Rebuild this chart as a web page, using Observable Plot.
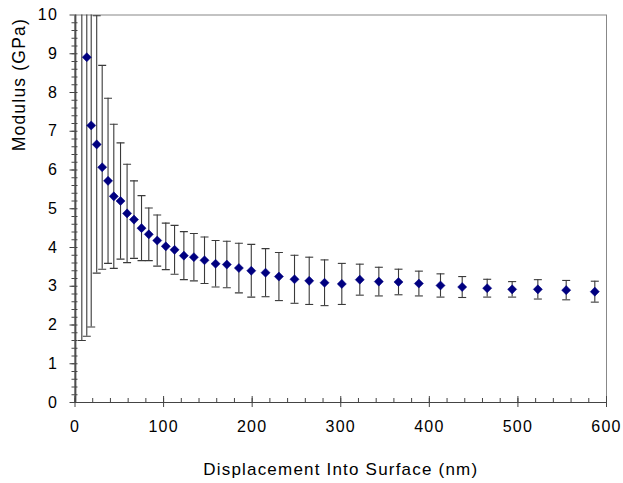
<!DOCTYPE html>
<html><head><meta charset="utf-8">
<script src="https://cdn.jsdelivr.net/npm/d3@7"></script>
<script src="https://cdn.jsdelivr.net/npm/@observablehq/plot@0.6"></script>
<style>
html,body{margin:0;padding:0;background:#fff;}
</style>
</head><body><div id="chart"></div>
<script>
// Displacement into surface (nm)
const depth = [0.9, 7.7, 13.3, 18.3, 24.5, 30.7, 37.3, 43.8, 51.4, 58.8, 66.6, 75.1, 83.3, 92.8, 102.5, 112.4, 122.9, 134.2, 146.2, 158.7, 171.4, 185.0, 199.0, 215.1, 230.2, 247.8, 264.4, 281.7, 301.2, 321.5, 343.0, 365.2, 388.2, 412.6, 437.1, 465.3, 493.5, 522.5, 554.5, 586.8];
// Modulus (GPa)
const modulus = [12.5, 11.0, 8.91, 7.15, 6.66, 6.07, 5.72, 5.32, 5.20, 4.88, 4.72, 4.50, 4.34, 4.18, 4.03, 3.94, 3.79, 3.75, 3.67, 3.58, 3.56, 3.47, 3.40, 3.35, 3.25, 3.18, 3.14, 3.09, 3.06, 3.17, 3.12, 3.11, 3.07, 3.02, 2.98, 2.95, 2.92, 2.92, 2.90, 2.86];
// Error (± GPa)
const stdev = [13.5, 9.4, 7.2, 5.2, 3.32, 2.63, 2.13, 1.86, 1.5, 1.27, 1.0, 0.84, 0.68, 0.66, 0.6, 0.63, 0.62, 0.61, 0.6, 0.6, 0.6, 0.64, 0.68, 0.62, 0.62, 0.62, 0.61, 0.59, 0.53, 0.4, 0.37, 0.33, 0.32, 0.3, 0.27, 0.23, 0.2, 0.25, 0.25, 0.27];

const xTicks = [0, 100, 200, 300, 400, 500, 600];
const yTicks = [0, 1, 2, 3, 4, 5, 6, 7, 8, 9, 10];
const xMinor = d3.range(0, 601, 20);
const yMinor = d3.range(0, 50).map(i => i * 0.2);
const xTitle = "Displacement Into Surface (nm)";
const yTitle = "Modulus (GPa)";

const data = depth.map((x, i) => ({x, y: modulus[i], lo: modulus[i] - stdev[i], hi: modulus[i] + stdev[i]}));

const cap = {draw(ctx) { ctx.moveTo(-4, 0); ctx.lineTo(4, 0); }};
const blank = () => "";
const axisColor = "#444";
const barColor = "#3a3a3a";

const chart = Plot.plot({
  width: 623,
  height: 483,
  marginLeft: 74.5,
  marginRight: 17,
  marginTop: 14.5,
  marginBottom: 81,
  style: {fontFamily: "Liberation Sans, Arial, sans-serif", fontSize: "16px", color: "#000", background: "#fff", letterSpacing: "1.2px"},
  x: {domain: [0, 600], label: null},
  y: {domain: [0, 10], label: null},
  marks: [
    Plot.frame({stroke: "#888"}),
    Plot.ruleX(data, {x: "x", y1: "lo", y2: "hi", stroke: barColor, strokeWidth: 1.1, clip: true}),
    Plot.dot(data, {x: "x", y: "lo", symbol: cap, stroke: barColor, strokeWidth: 1.1, clip: true}),
    Plot.dot(data, {x: "x", y: "hi", symbol: cap, stroke: barColor, strokeWidth: 1.1, clip: true}),
    Plot.dot(data, {x: "x", y: "y", symbol: "diamond2", r: 4.1, fill: "#000080", stroke: "#000080", strokeWidth: 0.5, clip: true}),
    Plot.ruleX([0], {stroke: axisColor}),
    Plot.ruleY([0], {stroke: axisColor}),
    Plot.axisX(xTicks, {tickSize: 5, tickPadding: 13, stroke: axisColor, label: null}),
    Plot.axisX(xTicks, {tickSize: -6, tickFormat: blank, stroke: axisColor, label: null}),
    Plot.axisX(xMinor, {tickSize: -4, tickFormat: blank, stroke: axisColor, label: null}),
    Plot.axisY(yTicks, {tickSize: 5, tickPadding: 12, stroke: axisColor, label: null}),
    Plot.axisY(yMinor, {tickSize: 3, tickFormat: blank, stroke: axisColor, label: null}),
    Plot.axisY(yMinor, {tickSize: -3, tickFormat: blank, stroke: axisColor, label: null}),
    Plot.text([xTitle], {text: d => d, frameAnchor: "bottom", dy: 67, lineAnchor: "middle", textAnchor: "middle", fontSize: 17}),
    Plot.text([yTitle], {text: d => d, frameAnchor: "top-left", dx: -55.5, dy: 3, rotate: -90, textAnchor: "end", lineAnchor: "middle", fontSize: 17.5})
  ]
});
document.getElementById("chart").appendChild(chart);
</script>
</body></html>
